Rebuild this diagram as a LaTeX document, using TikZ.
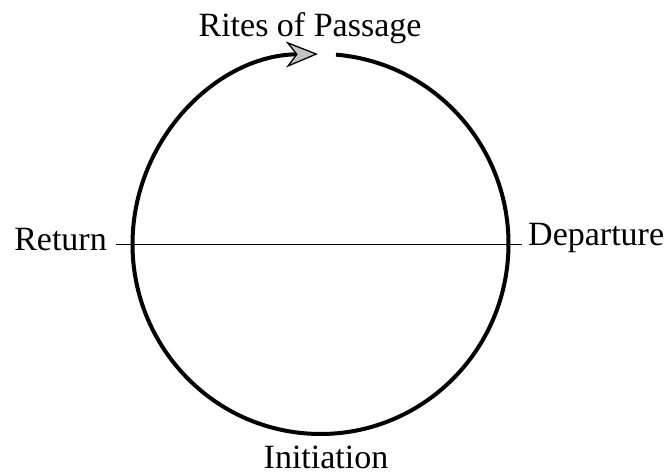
\documentclass[tikz,border=0pt]{standalone}
\usepackage{fontspec}
\setmainfont{Liberation Serif}
\usepackage{xcolor}
\usetikzlibrary{arrows.meta,calc}
\definecolor{tipgray}{HTML}{C4C4C4}

\begin{document}
\begin{tikzpicture}[
  x=1pt, y=1pt,
  lbl/.style={inner sep=0pt, font=\fontsize{34}{40}\selectfont},
  ring/.style={draw=black, line width=4pt,
               -{Stealth[length=32pt, width=26pt, inset=10pt, fill=tipgray, line width=1.3pt]}},
  divider/.style={draw=black, line width=1pt},
]
\useasboundingbox (0,0) rectangle (669,475);

% --- Centre of the cycle ---
\coordinate (c) at (320.5,231);

% --- Labels ---
\node[lbl, anchor=base]      (rites) at (310,438) {Rites of Passage};
\node[lbl, anchor=base east] (ret)   at (107,225) {Return};
\node[lbl, anchor=base west] (dep)   at (528,230) {Departure};
\node[lbl, anchor=base]      (ini)   at (326,7)   {Initiation};

% --- Cycle ---
\draw[ring] ($(c)+(85.27:188 and 190)$)
  arc[start angle=85.27, end angle=-269.24, x radius=188, y radius=190];

% --- Return -- Departure ---
\draw[divider] ([xshift=9pt]ret.east |- c) -- ([xshift=-6pt]dep.west |- c);

\end{tikzpicture}
\end{document}
